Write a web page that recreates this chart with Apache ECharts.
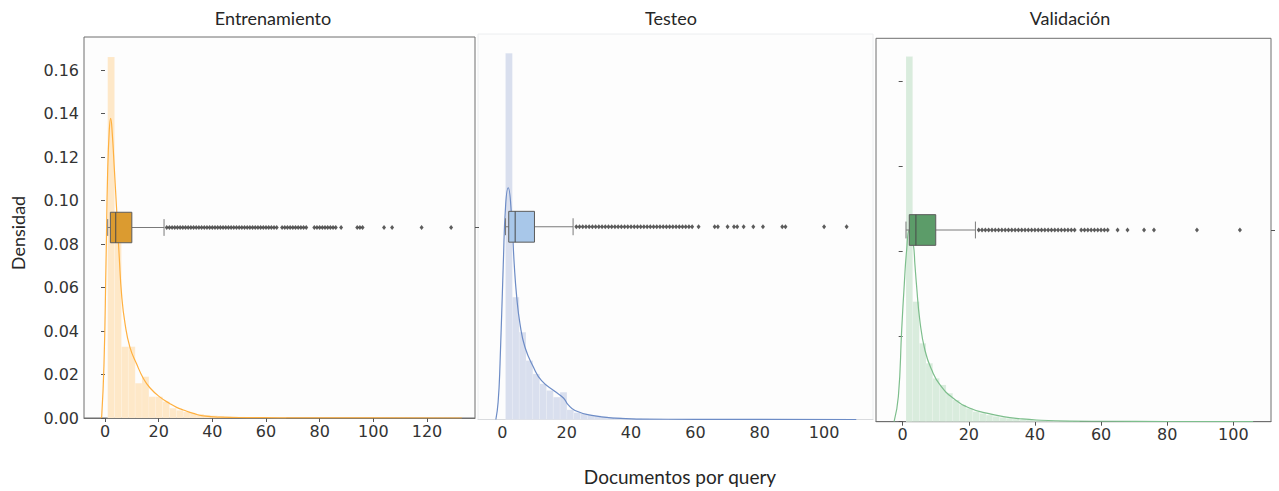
<!DOCTYPE html>
<html>
<head>
<meta charset="utf-8">
<script src="https://cdn.jsdelivr.net/npm/echarts@6/dist/echarts.min.js"></script>
<style>
  html, body { margin: 0; padding: 0; background: #ffffff; }
  #chart { width: 1279px; height: 491px; }
</style>
</head>
<body>
<div id="chart"></div>
<script>
// ---- Panel titles and axis texts ----
const panelTitles = ['Entrenamiento', 'Testeo', 'Validación'];
const xAxisTitle = 'Documentos por query';
const yAxisTitle = 'Densidad';

// ---- Tick labels ----
const trainXTicks = [0, 20, 40, 60, 80, 100, 120];
const testXTicks = [0, 20, 40, 60, 80, 100];
const valXTicks = [0, 20, 40, 60, 80, 100];
const trainYTicks = [0, 0.02, 0.04, 0.06, 0.08, 0.10, 0.12, 0.14, 0.16];
const valYTicks = [0, 0.04, 0.08, 0.12, 0.16];

// ---- Histogram heights (density), equal-width bins starting at the smallest count ----
const trainBinStart = 1, trainBinWidth = 2.56;
const trainHist = [0.166, 0.086, 0.0328, 0.0328, 0.016, 0.019, 0.0098, 0.0098, 0.0075, 0.0045,
  0.0035, 0.0028, 0.0022, 0.0018, 0.0014, 0.0011, 0.0009, 0.0007, 0.0006, 0.0005,
  0.0004, 0.0004, 0.0003, 0.0003, 0.0002, 0.0002];

const testBinStart = 1, testBinWidth = 2.12;
const testHist = [0.1704, 0.0569, 0.0406, 0.0274, 0.0212, 0.0166, 0.0135, 0.0104, 0.0127, 0.0045,
  0.0032, 0.0026, 0.0021, 0.0017, 0.0013, 0.0011, 0.0009, 0.0007, 0.0006, 0.0005,
  0.0004, 0.0003, 0.0003, 0.0002];

const valBinStart = 1, valBinWidth = 2.02;
const valHist = [0.1718, 0.0565, 0.0369, 0.0275, 0.0204, 0.0173, 0.0134, 0.0102, 0.0079, 0.0063,
  0.0047, 0.0039, 0.0031, 0.0025, 0.0020, 0.0016, 0.0013, 0.0011, 0.0009, 0.0007,
  0.0006, 0.0005, 0.0004, 0.0003, 0.0003, 0.0002];

// ---- Kernel density estimate curves: [documents, density] ----
const trainKde = [[-1.6, 0], [-1.24, 0.0006], [-0.37, 0.0251], [0.37, 0.0711], [1.0, 0.114],
  [1.6, 0.1324], [2.1, 0.1378], [2.7, 0.1309], [3.5, 0.114], [4.35, 0.0955], [5.3, 0.0742],
  [6.2, 0.0565], [7.45, 0.0435], [9.3, 0.0325], [11.8, 0.0248], [14.3, 0.0182], [16.8, 0.0138],
  [20.5, 0.0096], [24.2, 0.0066], [26.7, 0.0049], [29.2, 0.0037], [32.9, 0.0021], [36.6, 0.0010],
  [42.9, 0.0004], [52.8, 0.0002], [65, 0.0001], [80, 0.00005], [100, 0.00003], [133, 0]];

const testKde = [[-2.0, 0], [-1.3, 0.008], [-0.7, 0.026], [0.3, 0.072], [1.05, 0.100],
  [1.85, 0.1078], [2.9, 0.094], [3.7, 0.0724], [4.45, 0.0575], [5.5, 0.0445], [7.05, 0.0336],
  [9.7, 0.0243], [12.2, 0.0181], [16.4, 0.0130], [19.0, 0.0100], [20.5, 0.0068], [22.6, 0.0042],
  [27.8, 0.0019], [35, 0.0006], [43, 0.0002], [60, 0.0001], [80, 0.00005], [110, 0]];

const valKde = [[-2.6, 0], [-1.3, 0.012], [-0.3, 0.0432], [0.5, 0.0651], [1.2, 0.0808],
  [2.0, 0.090], [3.2, 0.0835], [3.7, 0.0740], [4.2, 0.0640], [5.2, 0.0475], [6.75, 0.0335],
  [8.8, 0.0243], [11.3, 0.0173], [15.3, 0.011], [20.4, 0.0063], [25.4, 0.0040], [30.4, 0.0024],
  [35.5, 0.0014], [40.5, 0.0008], [50.6, 0.0003], [60.7, 0.0002], [80, 0.0001], [106, 0]];

// ---- Box plot summaries: [min, Q1, median, Q3, upper whisker] ----
const trainBox = [1, 2, 4, 10, 22];
const testBox = [1, 2, 4, 10, 22];
const valBox = [1, 2, 4, 10, 22];

// ---- Outliers beyond the upper whisker ----
const trainOutliers = [23, 24, 25, 26, 27, 28, 29, 30, 31, 32, 33, 34, 35, 36, 37, 38, 39, 40, 41, 42,
  43, 44, 45, 46, 47, 48, 49, 50, 51, 52, 53, 54, 55, 56, 57, 58, 59, 60, 61, 62, 63, 64,
  66, 67, 68, 69, 70, 71, 72, 73, 74, 75, 78, 79, 80, 81, 82, 83, 84, 85, 86, 88,
  94, 95, 96, 104, 107, 118, 129];
const testOutliers = [23, 24, 25, 26, 27, 28, 29, 30, 31, 32, 33, 34, 35, 36, 37, 38, 39, 40, 41, 42,
  43, 44, 45, 46, 47, 48, 49, 50, 51, 52, 53, 54, 55, 56, 57, 58, 59,
  61, 66, 67, 70, 72, 73, 75, 78, 81, 87, 88, 100, 107];
const valOutliers = [23, 24, 25, 26, 27, 28, 29, 30, 31, 32, 33, 34, 35, 36, 37, 38, 39, 40, 41, 42,
  43, 44, 45, 46, 47, 48, 49, 50, 51, 52, 54, 55, 56, 57, 58, 59, 60, 61, 62,
  65, 68, 73, 76, 89, 102];

// ---- Styling per panel ----
const panels = [
  {
    hist: trainHist, binStart: trainBinStart, binWidth: trainBinWidth, kde: trainKde,
    box: trainBox, outliers: trainOutliers, xTicks: trainXTicks, yTicks: trainYTicks, yLabels: true,
    grid: { left: 84, top: 37, width: 391, height: 381 },
    xMin: -7.83, xMax: 137.9, yMax: 0.1752,
    frame: '#6f6f6f', axisColor: '#6f6f6f', twinTick: true,
    histColor: '#fee8c8', kdeColor: '#ffb03f', boxColor: '#db9b30'
  },
  {
    hist: testHist, binStart: testBinStart, binWidth: testBinWidth, kde: testKde,
    box: testBox, outliers: testOutliers, xTicks: testXTicks, yTicks: null, yLabels: false,
    grid: { left: 478, top: 34, width: 395, height: 385.5 },
    xMin: -7.55, xMax: 115.2, yMax: 0.1793,
    frame: '#eceef0', axisColor: '#d9dbde', twinTick: false,
    histColor: '#d9dfee', kdeColor: '#6d8cc6', boxColor: '#a8c7e9'
  },
  {
    hist: valHist, binStart: valBinStart, binWidth: valBinWidth, kde: valKde,
    box: valBox, outliers: valOutliers, xTicks: valXTicks, yTicks: valYTicks, yLabels: false,
    grid: { left: 876, top: 38.3, width: 395, height: 383.4 },
    xMin: -8.07, xMax: 111.4, yMax: 0.1804,
    frame: '#6f6f6f', axisColor: '#6f6f6f', twinTick: true,
    histColor: '#d9ecdd', kdeColor: '#7dbe8c', boxColor: '#5c9c69'
  }
];

const tickFont = { fontFamily: 'DejaVu Sans', fontSize: 16, color: '#333333' };
const BOX_HALF = 0.08;   // half height of the box on the [-1, 1] twin axis
const CAP_HALF = 0.044;  // half length of the whisker caps
const EDGE = '#5c5c5c';

function boxRenderer(fill) {
  return function (params, api) {
    const lo = api.value(0), q1 = api.value(1), med = api.value(2), q3 = api.value(3), hi = api.value(4);
    const P = (x, y) => api.coord([x, y]);
    const seg = (a, b, c) => ({
      type: 'line',
      shape: { x1: a[0], y1: a[1], x2: b[0], y2: b[1] },
      style: { stroke: c || EDGE, lineWidth: 1 }
    });
    const tl = P(q1, BOX_HALF), br = P(q3, -BOX_HALF);
    return {
      type: 'group',
      children: [
        seg(P(lo, 0), P(q1, 0), '#7a7a7a'),
        seg(P(q3, 0), P(hi, 0), '#7a7a7a'),
        seg(P(lo, -CAP_HALF), P(lo, CAP_HALF), '#7a7a7a'),
        seg(P(hi, -CAP_HALF), P(hi, CAP_HALF), '#7a7a7a'),
        {
          type: 'rect',
          shape: { x: tl[0], y: tl[1], width: br[0] - tl[0], height: br[1] - tl[1] },
          style: { fill: fill, stroke: EDGE, lineWidth: 1 }
        },
        seg(P(med, -BOX_HALF), P(med, BOX_HALF), '#4a4a4a')
      ]
    };
  };
}

const grid = [], xAxis = [], yAxis = [], series = [];

panels.forEach((p, i) => {
  grid.push(Object.assign({
    show: true, borderColor: p.frame, borderWidth: 1, backgroundColor: '#fdfdfd'
  }, p.grid));

  xAxis.push({
    type: 'value', gridIndex: i, min: p.xMin, max: p.xMax,
    axisLine: { show: true, lineStyle: { color: p.axisColor, width: 1 } },
    axisTick: { show: i !== 1, length: 4, customValues: p.xTicks, lineStyle: { color: '#555' } },
    axisLabel: Object.assign({ customValues: p.xTicks, margin: 5 }, tickFont),
    splitLine: { show: false }
  });

  // density axis
  yAxis.push({
    type: 'value', gridIndex: i, min: 0, max: p.yMax, position: 'left',
    axisLine: { show: false },
    axisTick: p.yTicks ? { show: true, length: 4, customValues: p.yTicks, lineStyle: { color: '#555' } } : { show: false },
    axisLabel: p.yLabels
      ? Object.assign({ customValues: p.yTicks, margin: 5, formatter: v => v.toFixed(2) }, tickFont)
      : { show: false },
    splitLine: { show: false }
  });

  // twin axis holding the box plot at its centre
  yAxis.push({
    type: 'value', gridIndex: i, min: -1, max: 1, position: 'right',
    axisLine: { show: false },
    axisTick: p.twinTick ? { show: true, length: 4, customValues: [0], lineStyle: { color: '#555' } } : { show: false },
    axisLabel: { show: false },
    splitLine: { show: false }
  });

  const histData = p.hist.map((h, k) => [p.binStart + k * p.binWidth, p.binStart + (k + 1) * p.binWidth, h]);

  series.push({
    type: 'custom', name: panelTitles[i] + ' hist', xAxisIndex: i, yAxisIndex: 2 * i,
    z: 1, silent: true,
    encode: { x: [0, 1], y: 2 },
    data: histData,
    renderItem: (params, api) => {
      const a = api.coord([api.value(0), api.value(2)]);
      const b = api.coord([api.value(1), 0]);
      return {
        type: 'rect',
        shape: { x: a[0], y: a[1], width: b[0] - a[0], height: b[1] - a[1] },
        style: { fill: p.histColor, stroke: 'rgba(255,255,255,0.35)', lineWidth: 0.4 }
      };
    }
  });

  series.push({
    type: 'line', name: panelTitles[i] + ' kde', xAxisIndex: i, yAxisIndex: 2 * i,
    z: 2, silent: true, showSymbol: false, smooth: 0.5,
    lineStyle: { color: p.kdeColor, width: 1.2 },
    data: p.kde
  });

  series.push({
    type: 'custom', name: panelTitles[i] + ' box', xAxisIndex: i, yAxisIndex: 2 * i + 1,
    z: 3, silent: true,
    encode: { x: [0, 4], y: 5 },
    data: [p.box.concat([0])],
    renderItem: boxRenderer(p.boxColor)
  });

  series.push({
    type: 'scatter', name: panelTitles[i] + ' outliers', xAxisIndex: i, yAxisIndex: 2 * i + 1,
    z: 4, silent: true, symbol: 'diamond', symbolSize: [4, 5],
    itemStyle: { color: '#333333' },
    data: p.outliers.map(v => [v, 0])
  });
});

const graphic = [
  { type: 'text', x: 273, y: 18, style: { text: panelTitles[0], font: '18px Lato', fill: '#262626', textAlign: 'center', textVerticalAlign: 'middle' } },
  { type: 'text', x: 671, y: 18, style: { text: panelTitles[1], font: '18px Lato', fill: '#262626', textAlign: 'center', textVerticalAlign: 'middle' } },
  { type: 'text', x: 1070, y: 18, style: { text: panelTitles[2], font: '18px Lato', fill: '#262626', textAlign: 'center', textVerticalAlign: 'middle' } },
  { type: 'text', x: 680, y: 476, style: { text: xAxisTitle, font: '19px Lato', fill: '#262626', textAlign: 'center', textVerticalAlign: 'middle' } },
  { type: 'text', x: 18, y: 233, rotation: Math.PI / 2, style: { text: yAxisTitle, font: '18px Lato', fill: '#262626', textAlign: 'center', textVerticalAlign: 'middle' } }
];

const chart = echarts.init(document.getElementById('chart'), null, { renderer: 'svg' });
chart.setOption({
  animation: false,
  backgroundColor: '#ffffff',
  textStyle: { fontFamily: 'DejaVu Sans' },
  grid, xAxis, yAxis, series, graphic
});
</script>
</body>
</html>
